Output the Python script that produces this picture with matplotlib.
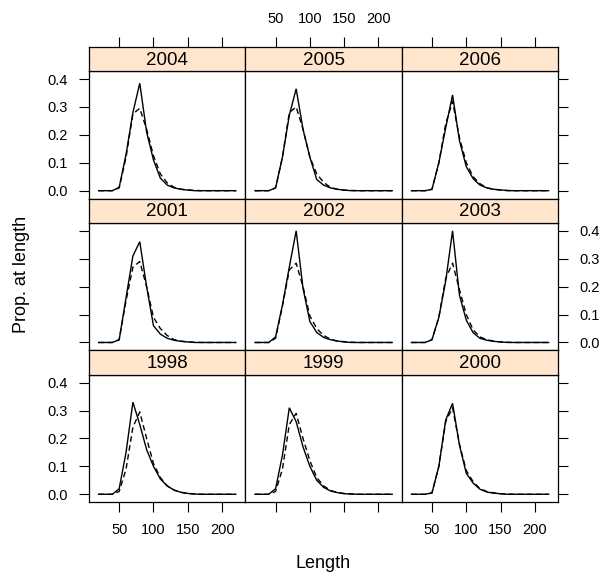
import matplotlib
matplotlib.use("Agg")
import matplotlib.pyplot as plt

plt.rcParams['font.family'] = ['Liberation Sans', 'DejaVu Sans']

lengths = [20, 30, 40, 50, 60, 70, 80, 90, 100, 110, 120, 130, 140, 150, 160, 170, 180, 190, 200, 210, 220]

years = ["2004", "2005", "2006", "2001", "2002", "2003", "1998", "1999", "2000"]

obs_2004 = [0, 0, 0, 0.012, 0.13, 0.28, 0.385, 0.21, 0.11, 0.045, 0.02, 0.01, 0.005, 0.002, 0, 0, 0, 0, 0, 0, 0]
pred_2004 = [0, 0, 0, 0.01, 0.12, 0.275, 0.295, 0.22, 0.125, 0.06, 0.028, 0.012, 0.005, 0.003, 0.001, 0, 0, 0, 0, 0, 0]
obs_2005 = [0, 0, 0, 0.01, 0.12, 0.27, 0.365, 0.22, 0.12, 0.04, 0.02, 0.01, 0.005, 0.002, 0, 0, 0, 0, 0, 0, 0]
pred_2005 = [0, 0, 0, 0.01, 0.12, 0.28, 0.30, 0.22, 0.12, 0.06, 0.03, 0.012, 0.005, 0.002, 0.001, 0, 0, 0, 0, 0, 0]
obs_2006 = [0, 0, 0, 0.005, 0.10, 0.225, 0.343, 0.18, 0.086, 0.043, 0.02, 0.01, 0.005, 0.003, 0, 0, 0, 0, 0, 0, 0]
pred_2006 = [0, 0, 0, 0.005, 0.10, 0.24, 0.32, 0.19, 0.10, 0.05, 0.025, 0.01, 0.005, 0.002, 0.001, 0, 0, 0, 0, 0, 0]
obs_2001 = [0, 0, 0, 0.01, 0.16, 0.31, 0.361, 0.20, 0.06, 0.03, 0.015, 0.008, 0.004, 0.002, 0, 0, 0, 0, 0, 0, 0]
pred_2001 = [0, 0, 0, 0.01, 0.15, 0.27, 0.29, 0.20, 0.09, 0.05, 0.025, 0.01, 0.005, 0.002, 0.001, 0, 0, 0, 0, 0, 0]
obs_2002 = [0, 0, 0, 0.02, 0.134, 0.27, 0.40, 0.194, 0.075, 0.036, 0.018, 0.01, 0.005, 0.002, 0, 0, 0, 0, 0, 0, 0]
pred_2002 = [0, 0, 0, 0.015, 0.13, 0.26, 0.284, 0.20, 0.095, 0.05, 0.025, 0.012, 0.005, 0.003, 0.001, 0, 0, 0, 0, 0, 0]
obs_2003 = [0, 0, 0, 0.01, 0.09, 0.22, 0.40, 0.17, 0.08, 0.035, 0.015, 0.008, 0.004, 0.002, 0, 0, 0, 0, 0, 0, 0]
pred_2003 = [0, 0, 0, 0.01, 0.09, 0.23, 0.284, 0.19, 0.10, 0.045, 0.02, 0.01, 0.005, 0.002, 0.001, 0, 0, 0, 0, 0, 0]
obs_1998 = [0, 0, 0, 0.02, 0.15, 0.33, 0.25, 0.16, 0.10, 0.055, 0.03, 0.015, 0.007, 0.003, 0.001, 0, 0, 0, 0, 0, 0]
pred_1998 = [0, 0, 0, 0.01, 0.09, 0.24, 0.295, 0.20, 0.11, 0.06, 0.03, 0.015, 0.007, 0.003, 0.001, 0, 0, 0, 0, 0, 0]
obs_1999 = [0, 0, 0, 0.02, 0.14, 0.31, 0.26, 0.17, 0.10, 0.05, 0.025, 0.012, 0.006, 0.002, 0.001, 0, 0, 0, 0, 0, 0]
pred_1999 = [0, 0, 0, 0.01, 0.09, 0.25, 0.29, 0.20, 0.12, 0.06, 0.03, 0.014, 0.006, 0.003, 0.001, 0, 0, 0, 0, 0, 0]
obs_2000 = [0, 0, 0, 0.005, 0.10, 0.266, 0.326, 0.177, 0.075, 0.04, 0.018, 0.008, 0.004, 0.002, 0, 0, 0, 0, 0, 0, 0]
pred_2000 = [0, 0, 0, 0.005, 0.10, 0.26, 0.31, 0.18, 0.085, 0.045, 0.02, 0.01, 0.005, 0.002, 0.001, 0, 0, 0, 0, 0, 0]

observed = [obs_2004, obs_2005, obs_2006, obs_2001, obs_2002, obs_2003, obs_1998, obs_1999, obs_2000]
predicted = [pred_2004, pred_2005, pred_2006, pred_2001, pred_2002, pred_2003, pred_1998, pred_1999, pred_2000]

x_ticks = [50, 100, 150, 200]
y_ticks = [0.0, 0.1, 0.2, 0.3, 0.4]
y_tick_labels = ["0.0", "0.1", "0.2", "0.3", "0.4"]

W, H = 603, 576
fig = plt.figure(figsize=(W / 100, H / 100), dpi=100)

col_left = [89.0, 245.4, 401.8]
col_w = 156.4
row_h = 151.8
strip_h = 24.5
top0 = 46.7
XLIM = (6, 234)
YLIM = (-0.028, 0.428)
strip_col = "#FFE5CC"
frame_col = "#000000"
TICK_LEN = 7
TICK_FS = 10.5
PAD = 8


def fax(left, top, w, h):
    return fig.add_axes([left / W, 1 - (top + h) / H, w / W, h / H])


for i, yr in enumerate(years):
    r, c = divmod(i, 3)
    st = top0 + r * row_h
    pt = st + strip_h
    ph = row_h - strip_h
    ax = fax(col_left[c], pt, col_w, ph)
    sax = fax(col_left[c], st, col_w, strip_h)

    ax.plot(lengths, observed[i], color="black", lw=1.0, solid_joinstyle="miter")
    ax.plot(lengths, predicted[i], color="black", lw=1.0, linestyle=(0, (4, 2.5)))
    ax.set_xlim(*XLIM)
    ax.set_ylim(*YLIM)
    for s in ax.spines.values():
        s.set_color(frame_col)
        s.set_linewidth(0.9)

    # strip
    sax.set_facecolor(strip_col)
    sax.set_xlim(*XLIM)
    sax.set_ylim(0, 1)
    sax.set_yticks([])
    for s in sax.spines.values():
        s.set_color(frame_col)
        s.set_linewidth(0.9)
    sax.text(0.5, 0.45, yr, transform=sax.transAxes, ha="center", va="center",
             fontsize=13.5, color="black")

    # x ticks
    ax.set_xticks(x_ticks)
    ax.tick_params(axis="x", direction="out", length=TICK_LEN, width=0.8, pad=PAD,
                   labelsize=TICK_FS, top=False, labeltop=False,
                   bottom=(r == 2), labelbottom=(r == 2 and c != 1))
    sax.set_xticks(x_ticks)
    sax.tick_params(axis="x", direction="out", length=TICK_LEN, width=0.8, pad=PAD,
                    labelsize=TICK_FS, bottom=False, labelbottom=False,
                    top=(r == 0), labeltop=(r == 0 and c == 1))

    # y ticks
    ax.set_yticks(y_ticks)
    ax.set_yticklabels(y_tick_labels)
    left_on = (c == 0)
    right_on = (c == 2)
    ax.tick_params(axis="y", direction="out", length=TICK_LEN, width=0.8, pad=PAD,
                   labelsize=TICK_FS,
                   left=left_on, labelleft=(left_on and r != 1),
                   right=right_on, labelright=(right_on and r == 1))

fig.text(323.5 / W, 1 - 563 / H, "Length", ha="center", va="center", fontsize=13)
fig.text(22 / W, 1 - 274 / H, "Prop. at length", ha="center", va="center",
         rotation=90, fontsize=13)

fig.savefig("out.png", dpi=100)
